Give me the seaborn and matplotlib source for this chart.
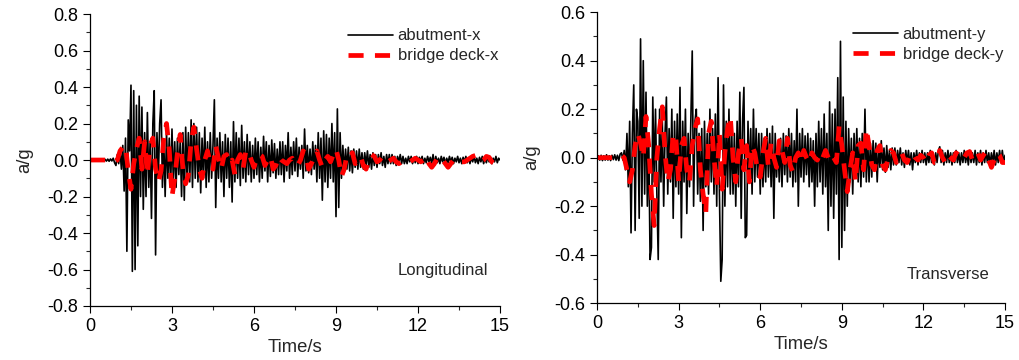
import numpy as np
import pandas as pd
import matplotlib
matplotlib.use("Agg")
import matplotlib.pyplot as plt
from matplotlib.ticker import MultipleLocator
import seaborn as sns

# ---------------- data ----------------
DT_ABUT = 0.05   # sampling step of abutment records (s)
DT_DECK = 0.10   # sampling step of bridge deck records (s)

abutment_x = [
    0, 0.005, -0.004, 0.006, -0.005, 0.004, -0.006, 0.005, -0.004, 0.006, -0.005, 0.004, -0.006, 0.005, -0.007, 0.006, -0.005, 0.01, -0.015, -0.03,
    0.03, -0.02, 0.05, -0.05, 0.08, -0.17, 0.12, -0.5, 0.22, 0.05, 0.41, -0.61, 0.38, -0.6, 0.3, -0.47, 0.35, -0.2, 0.29, -0.27,
    0.15, -0.2, 0.26, -0.15, 0.1, -0.32, 0.2, 0.38, -0.52, 0.15, -0.1, 0.2, 0.33, -0.15, 0.1, -0.2, 0.15, -0.1, 0.12, -0.15,
    0.17, -0.12, 0.1, -0.15, 0.12, -0.08, 0.1, -0.2, 0.15, -0.22, 0.18, -0.1, 0.15, -0.12, 0.22, -0.15, 0.2, -0.1, 0.18, -0.12,
    0.15, -0.18, 0.12, -0.1, 0.18, -0.15, 0.1, -0.12, 0.15, -0.1, 0.08, 0.33, -0.26, 0.12, -0.1, 0.15, -0.12, 0.1, -0.2, 0.14,
    -0.1, 0.12, -0.15, 0.1, -0.23, 0.21, -0.12, 0.15, -0.1, 0.12, -0.14, 0.19, -0.1, 0.1, -0.12, 0.14, -0.08, 0.1, -0.12, 0.08,
    -0.1, 0.12, -0.08, 0.1, -0.12, 0.07, -0.1, 0.13, -0.06, 0.1, -0.12, 0.08, -0.09, 0.11, -0.07, 0.09, -0.1, 0.06, -0.08, 0.1,
    -0.08, 0.1, -0.12, 0.08, -0.06, 0.15, -0.1, 0.07, -0.08, 0.1, -0.06, 0.12, -0.09, 0.07, -0.05, 0.08, -0.1, 0.17, -0.06, 0.08,
    -0.07, 0.06, -0.08, 0.1, -0.05, 0.08, -0.12, 0.15, -0.1, 0.12, -0.22, 0.16, -0.12, 0.14, -0.15, 0.12, -0.1, 0.2, -0.12, 0.15,
    -0.31, 0.28, -0.26, 0.15, -0.1, 0.08, -0.07, 0.06, -0.05, 0.07, -0.06, 0.05, -0.07, 0.06, -0.04, 0.05, -0.05, 0.06, -0.04, 0.04,
    -0.05, 0.04, -0.03, 0.05, -0.04, 0.03, -0.05, 0.04, -0.03, 0.03, -0.04, 0.03, -0.02, 0.04, -0.03, 0.02, -0.04, 0.03, -0.02, 0.03,
    -0.02, 0.03, -0.02, 0.02, -0.03, 0.02, -0.01, 0.03, -0.02, 0.02, -0.02, 0.01, -0.02, 0.02, -0.01, 0.02, -0.02, 0.01, -0.015, 0.02,
    -0.02, 0.015, -0.01, 0.02, -0.02, 0.01, -0.015, 0.02, -0.01, 0.015, -0.02, 0.03, -0.03, 0.02, -0.015, 0.01, -0.02, 0.02, -0.01, 0.015,
    -0.02, 0.01, -0.015, 0.02, -0.01, 0.015, -0.02, 0.01, -0.01, 0.02, -0.015, 0.01, -0.02, 0.015, -0.01, 0.02, -0.015, 0.01, -0.02, 0.015,
    -0.01, 0.02, -0.015, 0.01, -0.02, 0.015, -0.01, 0.02, -0.02, 0.01, -0.015, 0.02, -0.01, 0.015, -0.02, 0.01, -0.01, 0.02, -0.015, 0.01,
    0.0,
]

deck_x = [
    0, 0, 0, 0, 0, 0, 0, 0, -0.005, -0.01,
    0.0, 0.05, 0.07, 0.08, -0.06, -0.16, -0.02, 0.06, 0.12, -0.05,
    0.1, -0.08, 0.08, 0.12, -0.05, -0.12, -0.06, 0.12, 0.2, 0.06,
    -0.2, -0.1, 0.04, 0.14, -0.05, -0.13, -0.08, 0.1, 0.18, 0.06,
    -0.05, -0.1, 0.0, 0.05, -0.02, -0.05, 0.08, 0.01, -0.05, 0.02,
    0.03, -0.02, 0.0, -0.08, 0.0, 0.03, -0.05, 0.05, 0.05, 0.0,
    -0.04, 0.01, 0.03, 0.02, -0.03, 0.0, 0.02, -0.05, -0.03, 0.02,
    0.0, -0.01, -0.02, 0.0, 0.01, -0.02, -0.03, 0.0, 0.05, 0.03,
    -0.05, -0.02, 0.02, 0.05, 0.0, -0.04, 0.0, 0.02, -0.01, 0.03,
    0.06, 0.0, -0.09, -0.05, 0.03, 0.02, 0.04, -0.02, -0.01, 0.02,
    -0.03, -0.05, 0.0, 0.03, 0.02, -0.01, 0.0, 0.02, 0.0, -0.01,
    0.0, 0.01, -0.01, -0.02, -0.01, 0.0, -0.01, -0.01, 0.0, 0.01,
    0.0, -0.01, 0.0, 0.02, -0.02, -0.04, -0.02, 0.01, 0.02, 0.0,
    -0.02, -0.04, -0.02, 0.0, 0.01, 0.0, -0.01, -0.01, 0.0, 0.01,
    0.02, 0.025, 0.01, -0.01, 0.0, 0.02, 0.015, -0.01, -0.02, -0.01,
    0.0,
]

abutment_y = [
    0, 0.008, -0.01, 0.01, -0.012, 0.008, -0.01, 0.012, -0.01, 0.008, -0.012, 0.01, -0.008, 0.012, -0.01, 0.01, -0.012, 0.015, 0.02, -0.01,
    0.03, -0.05, 0.1, -0.12, 0.15, -0.31, 0.1, 0.3, -0.3, 0.2, 0.15, -0.25, 0.49, -0.2, 0.4, -0.15, 0.27, -0.2, 0.1, -0.42,
    -0.37, 0.25, -0.1, 0.2, -0.15, -0.42, 0.2, -0.1, 0.15, -0.2, 0.1, 0.25, -0.15, 0.12, -0.1, 0.2, -0.25, 0.15, -0.12, 0.18,
    -0.15, 0.29, -0.33, 0.15, -0.1, 0.2, -0.23, 0.1, -0.12, 0.15, 0.44, -0.2, 0.15, 0.2, -0.15, 0.1, -0.18, 0.12, -0.3, 0.15,
    -0.12, 0.1, -0.15, 0.2, -0.1, 0.12, -0.15, 0.18, -0.2, 0.33, -0.15, -0.51, -0.42, 0.3, -0.2, 0.15, -0.12, 0.2, -0.15, 0.12,
    -0.15, 0.1, -0.2, 0.15, -0.12, 0.27, -0.25, 0.15, 0.29, -0.33, -0.32, 0.15, -0.1, 0.12, -0.15, 0.2, -0.1, 0.12, -0.08, 0.1,
    -0.15, 0.1, -0.12, 0.08, -0.1, 0.12, -0.08, 0.1, -0.12, 0.13, -0.25, 0.1, -0.08, 0.06, -0.1, 0.08, -0.12, 0.1, -0.07, 0.09,
    -0.1, 0.12, -0.08, 0.1, -0.12, 0.07, -0.1, 0.2, -0.2, 0.1, -0.08, 0.12, -0.1, 0.09, -0.07, 0.1, -0.12, 0.08, -0.1, 0.07,
    -0.2, 0.1, -0.12, 0.15, -0.1, 0.12, -0.15, 0.18, -0.12, 0.1, -0.3, 0.23, -0.2, 0.18, -0.25, 0.2, -0.15, 0.33, -0.42, 0.48,
    -0.37, 0.25, -0.3, 0.15, -0.2, 0.12, -0.1, 0.08, -0.15, 0.1, -0.08, 0.12, -0.1, 0.08, -0.12, 0.1, -0.08, 0.2, -0.1, 0.08,
    -0.1, 0.06, -0.08, 0.07, -0.05, 0.06, -0.1, 0.05, -0.04, 0.07, -0.05, 0.04, -0.06, 0.05, -0.04, 0.03, -0.05, 0.04, -0.03, 0.04,
    -0.03, 0.03, -0.02, 0.04, -0.03, 0.02, -0.04, 0.03, -0.02, 0.03, -0.03, 0.02, -0.05, 0.02, -0.02, 0.03, -0.03, 0.02, -0.02, 0.03,
    -0.02, 0.02, -0.03, 0.02, -0.02, 0.03, -0.02, 0.02, -0.03, 0.02, -0.02, 0.03, 0.045, -0.02, 0.03, -0.03, 0.02, -0.02, 0.03, -0.02,
    0.02, -0.03, 0.02, -0.02, 0.03, -0.02, 0.02, -0.03, 0.02, -0.02, 0.03, -0.02, 0.02, -0.03, 0.03, -0.02, 0.02, -0.02, 0.03, -0.03,
    0.02, -0.02, 0.03, -0.03, 0.02, -0.02, 0.03, -0.02, 0.02, -0.03, 0.02, -0.02, 0.03, -0.03, 0.02, -0.02, 0.03, -0.02, 0.03, -0.02,
    0.01,
]

deck_y = [
    0, 0, 0, 0, 0, 0, 0, 0, 0.01, 0.01,
    0.0, -0.05, -0.1, -0.05, 0.05, 0.1, 0.06, 0.0, 0.17, 0.05,
    -0.15, -0.28, 0.0, 0.12, 0.21, 0.02, -0.1, -0.05, 0.1, 0.08,
    -0.1, 0.05, 0.08, -0.05, -0.1, 0.05, 0.12, 0.16, -0.05, -0.15,
    -0.23, 0.1, 0.15, 0.0, -0.12, 0.1, -0.13, 0.02, 0.12, 0.17,
    0.0, -0.1, 0.02, 0.08, -0.05, 0.05, -0.1, 0.05, 0.02, -0.05,
    -0.08, 0.02, 0.08, -0.04, 0.06, 0.0, -0.04, 0.07, 0.03, -0.02,
    0.08, -0.03, -0.06, 0.0, 0.02, -0.02, 0.03, 0.0, -0.02, 0.02,
    0.0, -0.01, 0.02, 0.0, 0.03, 0.0, 0.02, 0.0, -0.02, 0.13,
    0.05, -0.05, -0.14, -0.05, 0.02, -0.1, 0.05, 0.06, -0.05, 0.12,
    0.05, -0.03, -0.05, 0.03, 0.05, -0.03, -0.05, 0.0, 0.03, 0.02,
    -0.02, 0.0, 0.02, -0.01, -0.02, 0.01, 0.02, 0.0, -0.01, 0.01,
    0.0, -0.02, 0.01, 0.02, -0.02, -0.02, 0.03, 0.0, -0.02, 0.01,
    0.0, -0.01, 0.02, 0.01, -0.01, 0.0, 0.02, 0.025, -0.01, 0.0,
    0.02, -0.01, 0.01, 0.025, -0.01, -0.04, -0.01, 0.02, 0.01, -0.02,
    -0.02,
]

x_ticks = [0, 3, 6, 9, 12, 15]
y_ticks_left = [-0.8, -0.6, -0.4, -0.2, 0.0, 0.2, 0.4, 0.6, 0.8]
y_ticks_right = [-0.6, -0.4, -0.2, 0.0, 0.2, 0.4, 0.6]
panel_titles = ["Longitudinal", "Transverse"]
labels_abut = ["abutment-x", "abutment-y"]
labels_deck = ["bridge deck-x", "bridge deck-y"]

# ---------------- figure ----------------
sns.set_style("ticks")
plt.rcParams["font.family"] = ["Liberation Sans", "DejaVu Sans"]

fig = plt.figure(figsize=(10.19, 3.60), dpi=100)
ax1 = fig.add_axes([0.0883, 0.150, 0.4024, 0.811])
ax2 = fig.add_axes([0.5859, 0.158, 0.4004, 0.808])

panels = [
    (ax1, abutment_x, deck_x, y_ticks_left, (-0.8, 0.8), 0.1, labels_abut[0], labels_deck[0], panel_titles[0], 0.123),
    (ax2, abutment_y, deck_y, y_ticks_right, (-0.6, 0.6), 0.1, labels_abut[1], labels_deck[1], panel_titles[1], 0.10),
]

for ax, ab, dk, yt, ylim, yminor, lab_a, lab_d, title, ty in panels:
    t_ab = np.arange(len(ab)) * DT_ABUT
    t_dk = np.arange(len(dk)) * DT_DECK
    df_ab = pd.DataFrame({"t": t_ab, "a": ab})
    df_dk = pd.DataFrame({"t": t_dk, "a": dk})
    sns.lineplot(data=df_ab, x="t", y="a", ax=ax, color="black", lw=1.2,
                 label=lab_a, sort=False, estimator=None)
    sns.lineplot(data=df_dk, x="t", y="a", ax=ax, color="#ff0000", lw=3.4,
                 linestyle=(0, (3.2, 2.4)), label=lab_d, sort=False, estimator=None)
    ax.set_xlim(0, 15)
    ax.set_ylim(*ylim)
    ax.set_xticks(x_ticks)
    ax.set_yticks(yt)
    ax.set_xticklabels([str(v) for v in x_ticks])
    ax.set_yticklabels(["%.1f" % v for v in yt])
    ax.xaxis.set_minor_locator(MultipleLocator(1.5))
    ax.yaxis.set_minor_locator(MultipleLocator(yminor))
    ax.tick_params(which="major", direction="out", length=5, width=0.8, labelsize=13, colors="black")
    ax.tick_params(which="minor", direction="out", length=3, width=0.8)
    for s in ["top", "right"]:
        ax.spines[s].set_visible(False)
    for s in ["left", "bottom"]:
        ax.spines[s].set_linewidth(0.9)
        ax.spines[s].set_color("black")
    ax.set_xlabel("Time/s", fontsize=13.3, labelpad=3)
    ax.set_ylabel("a/g", fontsize=13.3, labelpad=10)
    ax.text(0.86, ty, title, transform=ax.transAxes, ha="center", va="center", fontsize=12)
    ax.legend(loc="upper right", frameon=False, fontsize=12, handlelength=2.7,
              handletextpad=0.3, borderaxespad=0.2, labelspacing=0.3,
              bbox_to_anchor=(1.02, 0.985))

fig.savefig("out.png", dpi=100)
